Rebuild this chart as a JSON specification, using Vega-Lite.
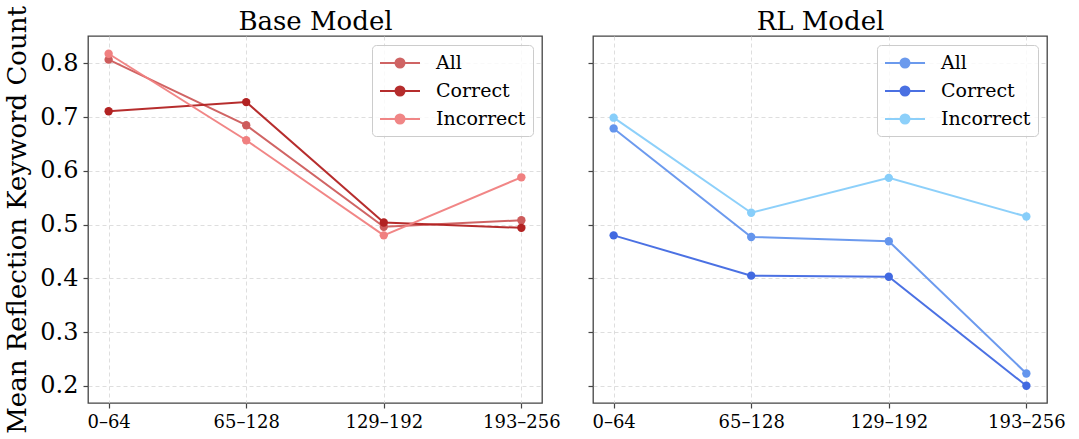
{
  "$schema": "https://vega.github.io/schema/vega-lite/v6.json",
  "padding": {"left": 4, "top": 4, "right": 5, "bottom": 4},
  "background": "white",
  "config": {
    "font": "DejaVu Serif",
    "view": {"stroke": "#444444", "strokeWidth": 1.3},
    "axis": {
      "domain": false,
      "tickColor": "#444444",
      "tickSize": 5,
      "tickWidth": 1.2,
      "labelColor": "black",
      "labelPadding": 5,
      "grid": true,
      "gridColor": "#d6d6d6",
      "gridDash": [4, 3],
      "gridWidth": 0.8,
      "titleFont": "DejaVu Serif",
      "titleFontWeight": "normal",
      "titleColor": "black"
    },
    "legend": {
      "orient": "top-right",
      "offset": 9,
      "title": null,
      "labelFontSize": 19,
      "labelColor": "black",
      "labelFont": "DejaVu Serif",
      "padding": 7,
      "rowPadding": 7,
      "strokeColor": "#cccccc",
      "fillColor": "rgba(255,255,255,0.8)",
      "cornerRadius": 4,
      "symbolType": "M-1,0H3M0.55,0A0.45,0.45,0,1,1,1.45,0A0.45,0.45,0,1,1,0.55,0Z",
      "symbolSize": 400,
      "symbolStrokeWidth": 2,
      "labelOffset": 35
    }
  },
  "data": {
    "values": [
      {"model": "Base Model", "bin": "0–64", "group": "All", "value": 0.807},
      {"model": "Base Model", "bin": "65–128", "group": "All", "value": 0.685},
      {"model": "Base Model", "bin": "129–192", "group": "All", "value": 0.496},
      {"model": "Base Model", "bin": "193–256", "group": "All", "value": 0.508},
      {"model": "Base Model", "bin": "0–64", "group": "Correct", "value": 0.711},
      {"model": "Base Model", "bin": "65–128", "group": "Correct", "value": 0.728},
      {"model": "Base Model", "bin": "129–192", "group": "Correct", "value": 0.504},
      {"model": "Base Model", "bin": "193–256", "group": "Correct", "value": 0.494},
      {"model": "Base Model", "bin": "0–64", "group": "Incorrect", "value": 0.818},
      {"model": "Base Model", "bin": "65–128", "group": "Incorrect", "value": 0.657},
      {"model": "Base Model", "bin": "129–192", "group": "Incorrect", "value": 0.480},
      {"model": "Base Model", "bin": "193–256", "group": "Incorrect", "value": 0.588},
      {"model": "RL Model", "bin": "0–64", "group": "All", "value": 0.679},
      {"model": "RL Model", "bin": "65–128", "group": "All", "value": 0.477},
      {"model": "RL Model", "bin": "129–192", "group": "All", "value": 0.469},
      {"model": "RL Model", "bin": "193–256", "group": "All", "value": 0.223},
      {"model": "RL Model", "bin": "0–64", "group": "Correct", "value": 0.480},
      {"model": "RL Model", "bin": "65–128", "group": "Correct", "value": 0.405},
      {"model": "RL Model", "bin": "129–192", "group": "Correct", "value": 0.403},
      {"model": "RL Model", "bin": "193–256", "group": "Correct", "value": 0.200},
      {"model": "RL Model", "bin": "0–64", "group": "Incorrect", "value": 0.699},
      {"model": "RL Model", "bin": "65–128", "group": "Incorrect", "value": 0.522},
      {"model": "RL Model", "bin": "129–192", "group": "Incorrect", "value": 0.587},
      {"model": "RL Model", "bin": "193–256", "group": "Incorrect", "value": 0.515}
    ]
  },
  "bounds": "flush",
  "spacing": 51,
  "resolve": {"scale": {"color": "independent"}},
  "hconcat": [
    {
      "width": 454,
      "height": 367,
      "transform": [{"filter": "datum.model == 'Base Model'"}],
      "encoding": {
        "y": {
          "field": "value",
          "type": "quantitative",
          "scale": {"domain": [0.168, 0.851], "nice": false, "zero": false},
          "axis": {
            "values": [0.2, 0.3, 0.4, 0.5, 0.6, 0.7, 0.8],
            "format": ".1f",
            "labelFontSize": 24,
            "title": "Mean Reflection Keyword Count",
            "titleFontSize": 26,
            "titlePadding": 9
          }
        },
        "color": {
          "field": "group",
          "type": "nominal",
          "scale": {"domain": ["All", "Correct", "Incorrect"], "range": ["#CD5C5C", "#B22222", "#F08080"]}
        }
      },
      "layer": [
        {
          "mark": {"type": "line", "strokeWidth": 2, "opacity": 0.95},
          "encoding": {
            "x": {
              "field": "bin",
              "type": "ordinal",
              "sort": ["0–64", "65–128", "129–192", "193–256"],
              "scale": {"type": "point", "padding": 0.15},
              "axis": {"title": null, "labelAngle": 0, "labelFontSize": 18}
            }
          }
        },
        {
          "mark": {"type": "point", "filled": true, "size": 70, "opacity": 1},
          "encoding": {
            "x": {
              "field": "bin",
              "type": "ordinal",
              "sort": ["0–64", "65–128", "129–192", "193–256"],
              "axis": {"orient": "top", "title": "Base Model", "titleFontSize": 26, "titlePadding": 2, "labels": false, "ticks": false, "grid": false, "domain": false}
            }
          }
        }
      ],
      "resolve": {"axis": {"x": "independent"}}
    },
    {
      "width": 454,
      "height": 367,
      "transform": [{"filter": "datum.model == 'RL Model'"}],
      "encoding": {
        "y": {
          "field": "value",
          "type": "quantitative",
          "scale": {"domain": [0.168, 0.851], "nice": false, "zero": false},
          "axis": {
            "values": [0.2, 0.3, 0.4, 0.5, 0.6, 0.7, 0.8],
            "labels": false,
            "title": null
          }
        },
        "color": {
          "field": "group",
          "type": "nominal",
          "scale": {"domain": ["All", "Correct", "Incorrect"], "range": ["#6495ED", "#4169E1", "#87CEFA"]}
        }
      },
      "layer": [
        {
          "mark": {"type": "line", "strokeWidth": 2, "opacity": 0.95},
          "encoding": {
            "x": {
              "field": "bin",
              "type": "ordinal",
              "sort": ["0–64", "65–128", "129–192", "193–256"],
              "scale": {"type": "point", "padding": 0.15},
              "axis": {"title": null, "labelAngle": 0, "labelFontSize": 18}
            }
          }
        },
        {
          "mark": {"type": "point", "filled": true, "size": 70, "opacity": 1},
          "encoding": {
            "x": {
              "field": "bin",
              "type": "ordinal",
              "sort": ["0–64", "65–128", "129–192", "193–256"],
              "axis": {"orient": "top", "title": "RL Model", "titleFontSize": 26, "titlePadding": 2, "labels": false, "ticks": false, "grid": false, "domain": false}
            }
          }
        }
      ],
      "resolve": {"axis": {"x": "independent"}}
    }
  ]
}
